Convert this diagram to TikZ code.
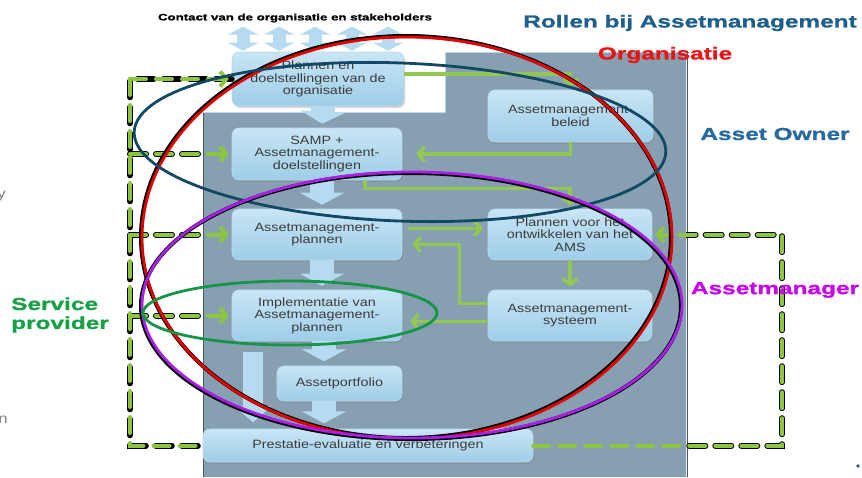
\documentclass[tikz,border=0pt]{standalone}
\usepackage{fontspec}
\setmainfont{Liberation Sans}
\newfontfamily\boxfont[FakeStretch=1.2]{Liberation Sans}
\newfontfamily\rolefont[FakeStretch=1.41,FakeBold=1.2]{Liberation Sans}
\usetikzlibrary{arrows.meta,shadows}
\definecolor{panel}{RGB}{135,160,177}
\definecolor{boxtop}{RGB}{200,229,245}
\definecolor{boxbot}{RGB}{158,205,232}
\definecolor{boxedge}{RGB}{185,218,236}
\definecolor{boxtext}{RGB}{60,60,60}
\definecolor{lgreen}{RGB}{146,200,82}
\definecolor{dgreen}{RGB}{140,198,63}
\definecolor{arrowblue}{RGB}{182,219,240}
\definecolor{titleblue}{RGB}{31,95,139}
\definecolor{ownerblue}{RGB}{40,105,160}
\definecolor{orgred}{RGB}{235,20,20}
\definecolor{mgrpurple}{RGB}{200,0,240}
\definecolor{svgreen}{RGB}{24,160,70}
\definecolor{ringblue}{RGB}{18,72,100}
\definecolor{ringpurple}{RGB}{170,30,230}
\definecolor{ringgreen}{RGB}{20,150,70}
\begin{document}
\begin{tikzpicture}[x=1pt,y=-1pt,
  box/.style={draw=boxedge,line width=0.6pt,rounded corners=7pt,top color=boxtop,bottom color=boxbot,
    align=center,text=boxtext,font=\boxfont\fontsize{12}{12.5}\selectfont,inner sep=2pt,
    drop shadow={shadow xshift=1.2pt,shadow yshift=-1.8pt,opacity=0.35}},
  role/.style={font=\rolefont\bfseries\fontsize{17.3}{19}\selectfont,inner sep=0pt},
  link/.style={draw=lgreen,line width=3.5pt,-{Straight Barb[length=6pt,width=15pt]},shorten >=8pt},
  dashout/.style={draw=black,line width=6pt,line cap=round,dash pattern=on 16pt off 10pt},
  dashin/.style={draw=dgreen,line width=4pt,line cap=round,dash pattern=on 16pt off 10pt},
  dashtip/.style={dashin,-{Straight Barb[length=6pt,width=15pt]},shorten >=3pt},
  bigdown/.style={draw=arrowblue,line width=24pt,-{Triangle[length=12pt,width=44pt]}},
  tallarrow/.style={draw=arrowblue,line width=20pt,-{Triangle[length=16pt,width=36pt]}},
  updown/.style={draw=arrowblue,line width=13pt,{Triangle[length=8pt,width=30pt]}-{Triangle[length=8pt,width=30pt]}},
  ring/.style={line width=2.8pt},
  ringshadow/.style={line width=4pt,black}]
\useasboundingbox (0,0) rectangle (862,477);
% panel behind the scheme
\fill[panel] (203,112) -- (445,112) -- (445,52) -- (686,52) -- (686,477) -- (203,477) -- cycle;
\draw[panel!55!black,line width=1pt] (203,477) -- (203,112);
\draw[panel!55!black,line width=1pt] (687,52) -- (687,477);
\draw[boxedge,line width=0.8pt] (203,112) -- (445,112) -- (445,52) -- (686,52);

\node[box,minimum width=172pt,minimum height=54pt] (org) at (318,79) {Plannen en\\doelstellingen van de\\organisatie};
\node[box,minimum width=165pt,minimum height=52pt] (beleid) at (570.5,116) {Assetmanagement-\\beleid};
\node[box,minimum width=170pt,minimum height=52pt] (samp) at (317,154) {SAMP +\\Assetmanagement-\\doelstellingen};
\node[box,minimum width=170pt,minimum height=51pt] (plannen) at (317,234.5) {Assetmanagement-\\plannen};
\node[box,minimum width=164pt,minimum height=51pt] (ams) at (570,234.5) {Plannen voor het\\ontwikkelen van het\\AMS};
\node[box,minimum width=170pt,minimum height=51pt] (impl) at (317,315.5) {Implementatie van\\Assetmanagement-\\plannen};
\node[box,minimum width=164pt,minimum height=51pt] (systeem) at (570,315.5) {Assetmanagement-\\systeem};
\node[box,minimum width=125pt,minimum height=35pt] (portfolio) at (339.5,383.5) {Assetportfolio};
\node[box,minimum width=330pt,minimum height=33pt] (prest) at (368,445.5) {Prestatie-evaluatie en verbeteringen};

\node[font=\rolefont\bfseries\fontsize{9.4}{11}\selectfont,inner sep=1pt] (contact) at (295,18) {Contact van de organisatie en stakeholders};
\foreach \x in {243,279,315,352,388}{
  \draw[updown,shorten <=3pt,shorten >=1pt] (\x,0 |- contact.south) -- (\x,0 |- org.north);
}

% dashed feedback lines
\coordinate (lt) at (130,79);
\coordinate (rt) at (782,0);
\begin{scope}
\clip (0,0) rectangle (203,477) (203,0) rectangle (445,112) (686,0) rectangle (862,477);
\draw[dashout] (org.west) -- (lt) |- (prest.west);
\foreach \n in {samp,plannen,impl}
  \draw[dashout] (lt |- \n.west) -- (\n.west);
\draw[dashout] (prest.east) -| (rt |- ams.east) -- (ams.east);
\end{scope}
\draw[dashin] (lt) |- (prest.west);
\draw[dashtip] (lt) -- (org.west);
\foreach \n in {samp,plannen,impl}
  \draw[dashtip] (lt |- \n.west) -- (\n.west);
\draw[dashtip] (prest.east) -| (rt |- ams.east) -- (ams.east);

% block arrows
\foreach \a/\b in {org/samp,samp/plannen,plannen/impl}
  \draw[bigdown] ([xshift=5pt]\a.south) -- ([xshift=5pt,yshift=4pt]\b.north);
\draw[bigdown] ([xshift=7pt]impl.south) -- ++(0,20);
\draw[bigdown] ([xshift=-15.5pt]portfolio.south) -- ++(0,22);
\draw[tallarrow] ([xshift=-64pt,yshift=-11pt]impl.south) -- ++(0,70);

% green links
\draw[link,shorten >=3pt] ([yshift=5pt]org.east) -| (beleid.north);
\draw[link,shorten >=14pt] (beleid.south) |- (samp.east);
\draw[link,shorten >=3pt] ([xshift=48pt]samp.south) -- ++(0,8) -| (ams.north);
\draw[link,shorten <=6pt,shorten >=5pt] ([yshift=6pt]plannen.east) -- ([yshift=6pt]ams.west);
\draw[link,shorten >=10pt] ([yshift=12pt]systeem.west) -- ++(-28,0) |- ([yshift=-10pt]plannen.east);
\draw[link,shorten >=3pt] (ams.south) -- (systeem.north);
\draw[link] ([yshift=-6pt]systeem.west) -- ([yshift=-6pt]impl.east);

% role rings
\draw[ringshadow] (406,237) ellipse [x radius=265,y radius=201];
\draw[ring,red!90!black] (407,238) ellipse [x radius=265,y radius=201];
\draw[ring,ringblue,rotate around={-2.2:(400,142)}] (400,142) ellipse [x radius=266,y radius=79];
\draw[ringshadow] (411,306) ellipse [x radius=270,y radius=133];
\draw[ring,ringpurple] (412,305) ellipse [x radius=270,y radius=133];
\draw[ring,ringgreen] (290,313) ellipse [x radius=147,y radius=32];

% role labels
\node[role,text=titleblue] (title) at (690,23) {Rollen bij Assetmanagement};
\node[role,text=orgred] (organisatie) at (665,55) {Organisatie};
\node[role,text=ownerblue] (owner) at (775,134) {Asset Owner};
\node[role,text=mgrpurple] (manager) at (775,290) {Assetmanager};
\node[role,text=svgreen,align=left] (service) at (60,315) {Service\\provider};
\node[font=\boxfont\fontsize{14}{14}\selectfont,text=gray,anchor=east,inner sep=0pt] (fragy) at (6,196) {y};
\node[font=\boxfont\fontsize{14}{14}\selectfont,text=gray,anchor=east,inner sep=0pt] (fragn) at (8,420) {n};
\fill[titleblue] (858,466) circle (1.8);
\end{tikzpicture}
\end{document}
